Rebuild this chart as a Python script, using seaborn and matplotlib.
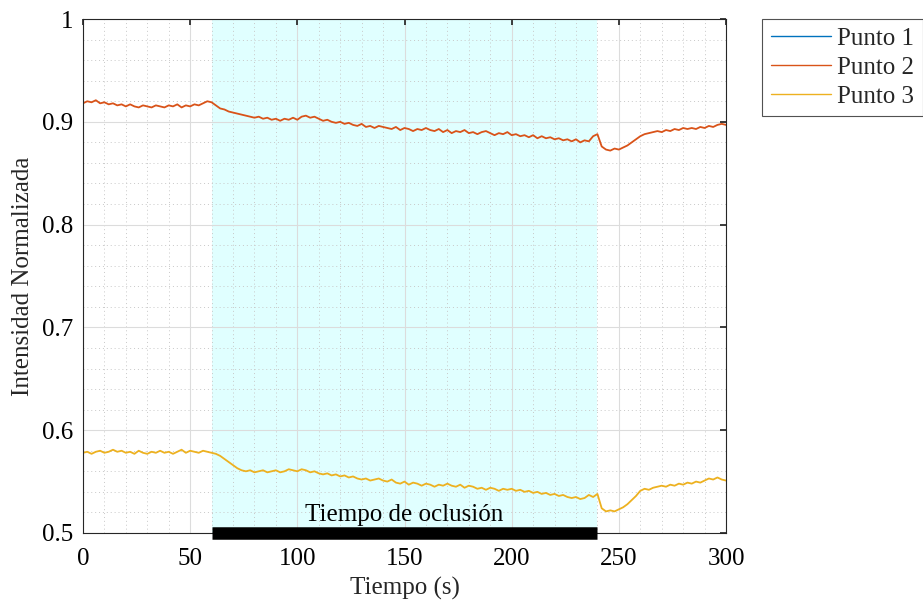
import numpy as np
import pandas as pd
import matplotlib
matplotlib.use("Agg")
import matplotlib.pyplot as plt
import seaborn as sns
from matplotlib.ticker import MultipleLocator

# Datos (muestreo cada 2 s)
tiempo = np.arange(0, 301, 2)

punto1 = [1.0] * len(tiempo)

punto2 = [
    0.918, 0.920, 0.919, 0.921, 0.918, 0.919, 0.917, 0.918, 0.916, 0.917,
    0.915, 0.917, 0.915, 0.914, 0.916, 0.915, 0.914, 0.916, 0.915, 0.914,
    0.916, 0.915, 0.917, 0.914, 0.916, 0.915, 0.917, 0.916, 0.918, 0.920,
    0.919,
    0.916, 0.913, 0.912, 0.910, 0.909, 0.908, 0.907, 0.906, 0.905, 0.904,
    0.905, 0.903, 0.904, 0.902, 0.903, 0.901, 0.903, 0.902, 0.904, 0.902,
    0.905, 0.906, 0.904, 0.905, 0.903, 0.901, 0.902, 0.900, 0.899, 0.900,
    0.898, 0.899, 0.897, 0.896, 0.898, 0.895, 0.896, 0.894, 0.896, 0.895,
    0.894, 0.893, 0.895, 0.892, 0.894, 0.893, 0.891, 0.893, 0.892, 0.894,
    0.892, 0.891, 0.893, 0.890, 0.892, 0.889, 0.891, 0.890, 0.892, 0.889,
    0.890, 0.888, 0.890, 0.891, 0.889, 0.887, 0.889, 0.888, 0.890, 0.887,
    0.888, 0.886, 0.887, 0.885, 0.887, 0.884, 0.886, 0.884, 0.885, 0.883,
    0.884, 0.882, 0.883, 0.881, 0.883, 0.880, 0.882, 0.881, 0.886, 0.888,
    0.876, 0.873, 0.872, 0.874, 0.873, 0.875, 0.877, 0.880, 0.883, 0.886,
    0.888, 0.889, 0.890, 0.891, 0.890, 0.892, 0.891, 0.893, 0.892, 0.894,
    0.893, 0.894, 0.893, 0.895, 0.894, 0.896, 0.895, 0.897, 0.898, 0.897,
]

punto3 = [
    0.578, 0.579, 0.577, 0.579, 0.580, 0.578, 0.579, 0.581, 0.579, 0.580,
    0.578, 0.579, 0.577, 0.580, 0.578, 0.577, 0.579, 0.578, 0.580, 0.578,
    0.579, 0.577, 0.579, 0.581, 0.578, 0.580, 0.579, 0.578, 0.580, 0.579,
    0.578,
    0.577, 0.575, 0.572, 0.569, 0.566, 0.563, 0.561, 0.560, 0.561, 0.559,
    0.560, 0.561, 0.559, 0.560, 0.561, 0.559, 0.560, 0.562, 0.561, 0.560,
    0.562, 0.561, 0.559, 0.560, 0.558, 0.557, 0.558, 0.556, 0.557, 0.555,
    0.556, 0.554, 0.555, 0.553, 0.552, 0.553, 0.551, 0.552, 0.553, 0.551,
    0.550, 0.552, 0.549, 0.548, 0.550, 0.547, 0.549, 0.548, 0.546, 0.548,
    0.547, 0.545, 0.547, 0.546, 0.548, 0.546, 0.545, 0.547, 0.544, 0.546,
    0.545, 0.543, 0.544, 0.542, 0.544, 0.543, 0.541, 0.543, 0.542, 0.543,
    0.541, 0.542, 0.540, 0.541, 0.539, 0.540, 0.538, 0.539, 0.537, 0.538,
    0.536, 0.537, 0.535, 0.534, 0.535, 0.533, 0.534, 0.537, 0.535, 0.538,
    0.524, 0.521, 0.522, 0.521, 0.523, 0.525, 0.528, 0.532, 0.536, 0.541,
    0.543, 0.542, 0.544, 0.545, 0.546, 0.545, 0.547, 0.546, 0.548, 0.547,
    0.549, 0.548, 0.550, 0.549, 0.551, 0.553, 0.552, 0.554, 0.552, 0.551,
]

nombres = ["Punto 1", "Punto 2", "Punto 3"]
colores = ["#0072BD", "#D95319", "#EDB120"]
oclusion = (60, 240)

sns.set_theme(style="whitegrid")
plt.rcParams["font.family"] = ["Liberation Serif", "DejaVu Serif"]
plt.rcParams["mathtext.fontset"] = "stix"

fig = plt.figure(figsize=(9.23, 6.06), dpi=100)
ax = fig.add_axes([0.0899, 0.1205, 0.6967, 0.8481])

ax.axvspan(oclusion[0], oclusion[1], color="#e0ffff", zorder=0.2, lw=0)

for nombre, serie, color in zip(nombres, [punto1, punto2, punto3], colores):
    sns.lineplot(x=tiempo, y=serie, ax=ax, color=color, label=nombre, lw=1.3)

# barra negra de oclusión
ax.plot(oclusion, [0.5, 0.5], color="black", lw=9, clip_on=False,
        solid_capstyle="butt", zorder=5)
ax.text(np.mean(oclusion), 0.507, "Tiempo de oclusión", ha="center",
        va="bottom", fontsize=18, color="black")

ax.set_xlim(0, 300)
ax.set_ylim(0.5, 1.0)
ax.xaxis.set_major_locator(MultipleLocator(50))
ax.xaxis.set_minor_locator(MultipleLocator(10))
ax.yaxis.set_major_locator(MultipleLocator(0.1))
ax.yaxis.set_minor_locator(MultipleLocator(0.02))
ax.set_yticks([0.5, 0.6, 0.7, 0.8, 0.9, 1.0])
ax.set_yticklabels(["0.5", "0.6", "0.7", "0.8", "0.9", "1"])

ax.set_axisbelow(True)
ax.grid(which="major", color="#dcdcdc", lw=0.8, ls="-")
ax.grid(which="minor", color="#c8c8c8", lw=0.7, ls=(0, (1, 3)))

for s in ax.spines.values():
    s.set_visible(True)
    s.set_color("#262626")
    s.set_linewidth(0.8)

ax.tick_params(which="both", direction="in", top=True, right=True,
               labelsize=18, colors="#262626", labelcolor="black")
ax.tick_params(axis="x", pad=11)
ax.tick_params(axis="y", pad=7)
ax.tick_params(which="major", length=4)
ax.tick_params(which="minor", length=0)

ax.set_xlabel("Tiempo (s)", fontsize=18, labelpad=5)
ax.set_ylabel("Intensidad Normalizada", fontsize=18, labelpad=6)

leg = ax.legend(loc="upper left", bbox_to_anchor=(0.8256, 0.969),
                bbox_transform=fig.transFigure, fontsize=18, frameon=True,
                fancybox=False, edgecolor="#262626", handlelength=2.4,
                handletextpad=0.25, borderpad=0.35, labelspacing=0.25,
                borderaxespad=0)
leg.get_frame().set_linewidth(0.8)
for h in leg.get_lines():
    h.set_linewidth(1.0)

fig.savefig("out.png", dpi=100)
